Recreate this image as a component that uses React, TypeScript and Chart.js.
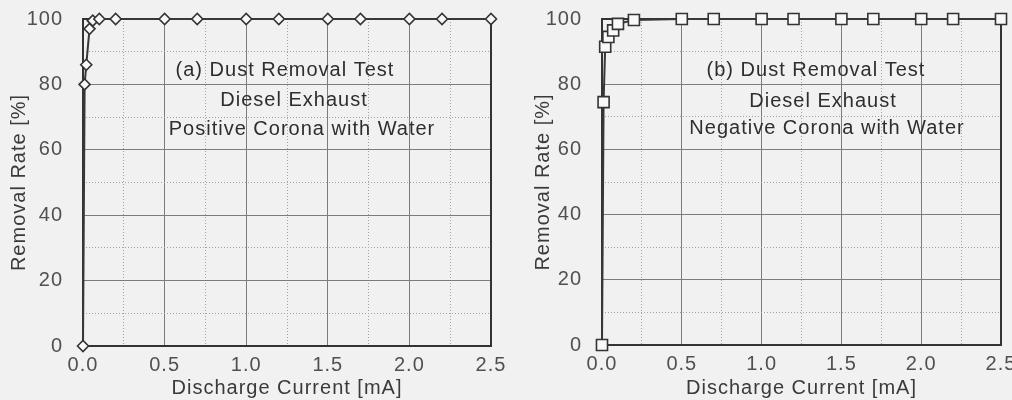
import React, { useEffect, useRef } from 'react';
import { Chart, registerables } from 'chart.js';

Chart.register(...registerables);

// ---- data ----
const currentPositive = [0, 0.01, 0.02, 0.04, 0.06, 0.1, 0.2, 0.5, 0.7, 1.0, 1.2, 1.5, 1.7, 2.0, 2.2, 2.5];
const removalPositive = [0, 80, 86, 97, 99.5, 100, 100, 100, 100, 100, 100, 100, 100, 100, 100, 100];

const currentNegative = [0, 0.01, 0.02, 0.04, 0.07, 0.1, 0.2, 0.5, 0.7, 1.0, 1.2, 1.5, 1.7, 2.0, 2.2, 2.5];
const removalNegative = [0, 74.5, 91.5, 94.5, 96.5, 98.5, 99.7, 100, 100, 100, 100, 100, 100, 100, 100, 100];

const xTickLabels = ['0.0', '0.5', '1.0', '1.5', '2.0', '2.5'];
const yTickLabels = ['0', '20', '40', '60', '80', '100'];

const xTitle = 'Discharge Current [mA]';
const yTitle = 'Removal Rate [%]';

const notesPositive = ['(a) Dust Removal Test', 'Diesel Exhaust', 'Positive Corona with Water'];
const notesNegative = ['(b) Dust Removal Test', 'Diesel Exhaust', 'Negative Corona with Water'];

// ---- styling ----
const FONT = "'Liberation Sans', Arial, sans-serif";
const H = 400;

type Area = { left: number; right: number; top: number; bottom: number };
type PanelProps = {
  xs: number[];
  ys: number[];
  pointStyle: string;
  pointRadius: number;
  notes: string[];
  notePos: { x: number; y: number }[];
  area: Area;
  width: number;
  offset: number;
  yTitlePad: number;
};

const isMajor = (v: number, step: number) => Math.abs(v / step - Math.round(v / step)) < 1e-6;

function Panel(p: PanelProps) {
  const ref = useRef<HTMLCanvasElement | null>(null);
  useEffect(() => {
    const canvas = ref.current;
    if (!canvas) return;

    const spacing = {
      id: 'spacing',
      beforeDraw(chart: any) {
        chart.ctx.letterSpacing = '1px';
      },
    };
    const frame = {
      id: 'frame',
      beforeDatasetsDraw(chart: any) {
        const { ctx, chartArea: a } = chart;
        ctx.save();
        ctx.strokeStyle = '#333';
        ctx.lineWidth = 2;
        ctx.setLineDash([]);
        ctx.strokeRect(a.left, a.top, a.right - a.left, a.bottom - a.top);
        ctx.restore();
      },
    };
    const notes = {
      id: 'notes',
      afterDraw(chart: any) {
        const ctx = chart.ctx;
        ctx.save();
        ctx.letterSpacing = '1px';
        ctx.font = `20px ${FONT}`;
        ctx.fillStyle = '#2e2e2e';
        ctx.textAlign = 'center';
        ctx.textBaseline = 'middle';
        p.notes.forEach((t, i) => ctx.fillText(t, p.notePos[i].x, p.notePos[i].y));
        ctx.restore();
      },
    };

    const gridColor = (c: any, step: number) =>
      c.tick && isMajor(c.tick.value, step) ? '#7c7c7c' : '#a2a2a2';
    const gridDash = (c: any, step: number) =>
      c.tick && isMajor(c.tick.value, step) ? [] : [1, 2];

    const chart = new Chart(canvas, {
      type: 'line',
      data: {
        datasets: [
          {
            data: p.xs.map((x, i) => ({ x, y: p.ys[i] })),
            borderColor: '#383838',
            borderWidth: 2,
            pointStyle: p.pointStyle as any,
            pointRadius: p.pointRadius,
            pointBackgroundColor: '#f8f8f8',
            pointBorderColor: '#333',
            pointBorderWidth: 1.6,
            tension: 0,
            clip: false as any,
          },
        ],
      },
      options: {
        responsive: false,
        maintainAspectRatio: false,
        animation: false,
        events: [],
        layout: { padding: { left: 0, top: p.area.top, right: p.width - p.area.right, bottom: 0 } },
        plugins: { legend: { display: false }, tooltip: { enabled: false } },
        scales: {
          x: {
            type: 'linear',
            min: 0,
            max: 2.5,
            afterFit: (s: any) => {
              s.height = H - p.area.bottom;
              s.paddingLeft = 0;
              s.paddingRight = 0;
            },
            ticks: {
              stepSize: 0.25,
              autoSkip: false,
              maxRotation: 0,
              padding: 7,
              color: '#505050',
              font: { family: FONT, size: 20 },
              callback: (v: any) => (isMajor(Number(v), 0.5) ? xTickLabels[Math.round(Number(v) / 0.5)] : ''),
            },
            grid: { color: (c: any) => gridColor(c, 0.5), lineWidth: 1, drawTicks: false },
            border: { display: false, dash: (c: any) => gridDash(c, 0.5) } as any,
            title: {
              display: true,
              text: xTitle,
              color: '#3a3a3a',
              font: { family: FONT, size: 20 },
              padding: { top: 0, bottom: 0 },
            },
          },
          y: {
            min: 0,
            max: 100,
            afterFit: (s: any) => {
              s.width = p.area.left;
              s.paddingTop = 0;
              s.paddingBottom = 0;
            },
            ticks: {
              stepSize: 10,
              autoSkip: false,
              padding: 20,
              color: '#505050',
              font: { family: FONT, size: 20 },
              callback: (v: any) => (isMajor(Number(v), 20) ? yTickLabels[Math.round(Number(v) / 20)] : ''),
            },
            grid: { color: (c: any) => gridColor(c, 20), lineWidth: 1, drawTicks: false },
            border: { display: false, dash: (c: any) => gridDash(c, 20) } as any,
            title: {
              display: true,
              text: yTitle,
              color: '#3a3a3a',
              font: { family: FONT, size: 20 },
              padding: { top: p.yTitlePad, bottom: 0 },
            },
          },
        },
      } as any,
      plugins: [spacing, frame, notes],
    });
    return () => chart.destroy();
  }, []);

  return (
    <canvas
      ref={ref}
      width={p.width}
      height={H}
      style={{ position: 'absolute', left: p.offset, top: 0, width: p.width, height: H }}
    />
  );
}

export default function App() {
  return (
    <div
      style={{
        position: 'absolute',
        left: 0,
        top: 0,
        width: 1012,
        height: 400,
        overflow: 'hidden',
        background: '#f1f1f1',
      }}
    >
      <Panel
        xs={currentPositive}
        ys={removalPositive}
        pointStyle="rectRot"
        pointRadius={5.5}
        notes={notesPositive}
        notePos={[
          { x: 285, y: 70 },
          { x: 294, y: 100 },
          { x: 302, y: 129 },
        ]}
        area={{ left: 83, right: 491, top: 19, bottom: 346 }}
        width={530}
        offset={0}
        yTitlePad={7}
      />
      <Panel
        xs={currentNegative}
        ys={removalNegative}
        pointStyle="rect"
        pointRadius={7.8}
        notes={notesNegative}
        notePos={[
          { x: 306, y: 70 },
          { x: 313, y: 101 },
          { x: 317, y: 128 },
        ]}
        area={{ left: 92, right: 491, top: 19, bottom: 345 }}
        width={502}
        offset={510}
        yTitlePad={21}
      />
    </div>
  );
}
